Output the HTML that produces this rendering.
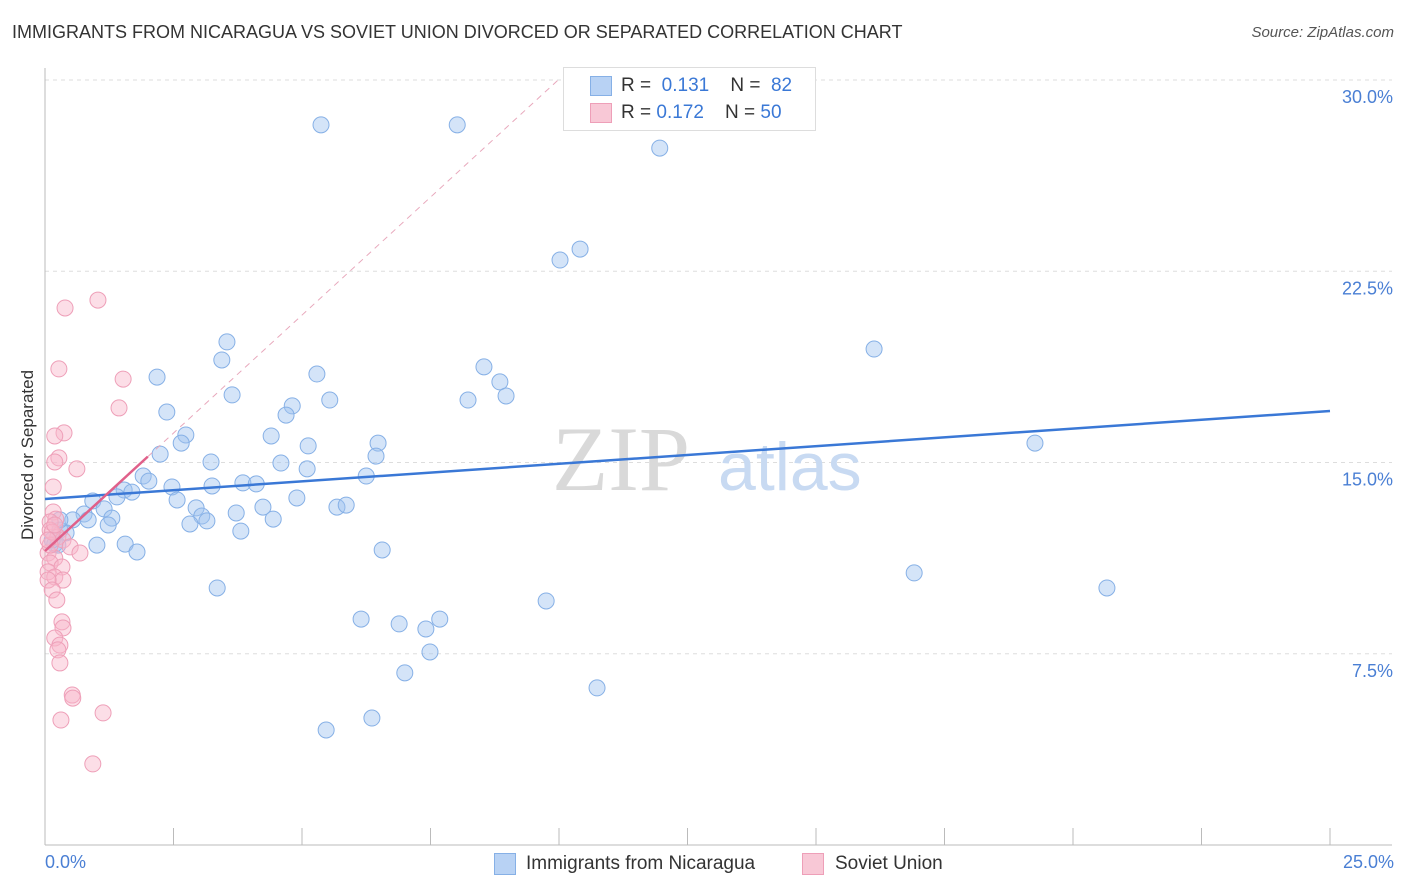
<!DOCTYPE html>
<html><head><meta charset="utf-8">
<style>
body{margin:0;background:#fff;font-family:"Liberation Sans",sans-serif;}
#wrap{position:relative;width:1406px;height:892px;overflow:hidden;}
.t{position:absolute;white-space:nowrap;}
</style></head><body>
<div id="wrap">
<div class="t" style="left:12px;top:22px;font-size:18px;color:#333;">IMMIGRANTS FROM NICARAGUA VS SOVIET UNION DIVORCED OR SEPARATED CORRELATION CHART</div>
<div class="t" style="right:12px;top:24px;font-size:15px;color:#555;font-style:italic;">Source: ZipAtlas.com</div>
<svg id="svg" width="1406" height="892" style="position:absolute;left:0;top:0"></svg>
</div>
<script>
const blueX=[5.37,8.02,11.96,10.02,10.41,16.13,19.26,16.91,20.66,3.54,3.44,2.18,3.64,2.37,5.29,5.54,4.81,4.69,4.40,5.12,5.10,4.59,2.74,2.65,2.24,3.23,1.91,2.02,2.47,2.57,3.85,4.11,3.25,1.54,1.69,1.40,0.93,1.15,0.76,0.54,0.84,1.30,1.23,0.29,0.41,0.19,1.01,1.56,1.79,2.94,3.05,3.15,2.82,3.72,3.81,4.24,4.44,4.90,5.68,5.86,6.25,6.48,6.44,6.56,8.54,8.85,8.97,8.23,6.15,6.89,7.41,7.68,7.49,7.00,9.75,10.74,3.35,5.47,6.36,0.25,0.14,0.29];
const blueY=[28.24,28.24,27.33,22.94,23.37,19.45,15.76,10.67,10.08,19.73,19.02,18.35,17.65,16.98,18.47,17.45,17.22,16.86,16.04,15.65,14.75,14.98,16.08,15.76,15.33,15.02,14.47,14.27,14.04,13.53,14.20,14.16,14.08,13.92,13.84,13.65,13.49,13.18,12.98,12.75,12.75,12.82,12.55,12.35,12.24,11.80,11.76,11.80,11.49,13.22,12.90,12.71,12.59,13.02,12.31,13.25,12.78,13.61,13.25,13.33,14.47,15.76,15.25,11.57,18.75,18.16,17.61,17.45,8.86,8.67,8.47,8.86,7.57,6.75,9.57,6.16,10.08,4.51,4.98,11.76,11.96,12.75];
const pinkX=[1.03,0.39,0.27,1.52,1.44,0.37,0.19,0.27,0.19,0.62,0.16,0.16,0.21,0.10,0.10,0.25,0.35,0.49,0.68,0.06,0.19,0.10,0.33,0.06,0.19,0.35,0.06,0.14,0.23,0.33,0.35,0.19,0.29,0.25,0.29,0.53,0.54,0.31,1.13,0.93,0.10,0.14,0.06,0.19];
const pinkY=[21.37,21.06,18.67,18.27,17.14,16.16,16.04,15.18,15.02,14.75,14.04,13.06,12.78,12.67,12.35,12.08,11.96,11.69,11.45,11.45,11.25,11.06,10.90,10.71,10.51,10.39,10.39,10.00,9.61,8.75,8.51,8.12,7.84,7.65,7.14,5.88,5.76,4.90,5.18,3.18,11.76,12.27,11.96,12.55];
const yTicks=[7.5,15.0,22.5,30.0];
const blueTrend=[13.57,17.02];
const pinkTrend=[11.53,1.85];
const X0=45,X1=1330,Y0=845,PXY=25.5;
const sx=v=>X0+(X1-X0)*v/25;
const sy=v=>Y0-v*PXY;
const svg=document.getElementById('svg');
const NS='http://www.w3.org/2000/svg';
function mk(tag,attrs,parent){const e=document.createElementNS(NS,tag);for(const k in attrs)e.setAttribute(k,attrs[k]);(parent||svg).appendChild(e);return e;}
// gridlines & y labels
yTicks.forEach(v=>{
 const g=mk('line',{x1:X0,x2:1392,y1:sy(v),y2:sy(v),stroke:'#ddd','stroke-dasharray':'4,4'});
 
 
 const t=mk('text',{x:1393,y:sy(v)+23,'text-anchor':'end','font-size':18,fill:'#4a7fd4'});
 t.textContent=v.toFixed(1)+'%';
 
 
});
// axes
const ax=mk('line',{x1:X0,x2:1392,y1:Y0,y2:Y0,stroke:'#bbb'});


const ay=mk('line',{x1:X0,x2:X0,y1:68,y2:Y0,stroke:'#bbb'});


for(let i=0;i<=10;i++){
 const tk=mk('line',{x1:sx(i*2.5),x2:sx(i*2.5),y1:828,y2:Y0,stroke:'#bbb'});
 
 
}
// watermark
const wm=mk('text',{x:552,y:490,'font-size':92,fill:'#d9d9d9','font-family':'Liberation Serif, serif'});
wm.textContent='ZIP';


const wm2=mk('text',{x:718,y:490,'font-size':68,fill:'#c8daf2'});
wm2.textContent='atlas';


// points
blueX.forEach((v,i)=>{
 const c=mk('circle',{cx:sx(v),cy:sy(blueY[i]),r:8,fill:'rgba(160,196,240,0.45)',stroke:'#86b0e6','stroke-width':1});
 
 
});
pinkX.forEach((v,i)=>{
 const c=mk('circle',{cx:sx(v),cy:sy(pinkY[i]),r:8,fill:'rgba(248,182,202,0.45)',stroke:'#ee9fb8','stroke-width':1});
 
 
});
// trend lines
const bl=mk('line',{x1:sx(0),y1:sy(blueTrend[0]),x2:sx(25),y2:sy(blueTrend[1]),stroke:'#3a78d6','stroke-width':2.5});


const pd=mk('line',{x1:sx(2),y1:sy(pinkTrend[0]+pinkTrend[1]*2),x2:sx(10),y2:sy(pinkTrend[0]+pinkTrend[1]*10),stroke:'#e8a8bc','stroke-width':1,'stroke-dasharray':'6,5'});


const pl=mk('line',{x1:sx(0),y1:sy(pinkTrend[0]),x2:sx(2),y2:sy(pinkTrend[0]+pinkTrend[1]*2),stroke:'#e0608a','stroke-width':2.5});


</script>
<div class="t" style="left:17px;top:455px;transform:translate(-50%,-50%) rotate(-90deg);transform-origin:center;margin-left:11px;font-size:17px;color:#333;">Divorced or Separated</div>
<div class="t" style="left:45px;top:852px;font-size:18px;color:#4a7fd4;">0.0%</div>
<div class="t" style="right:12px;top:852px;font-size:18px;color:#4a7fd4;">25.0%</div>
<div style="position:absolute;left:563px;top:67px;width:251px;height:62px;border:1px solid #ddd;background:#fff;font-size:19px;color:#333;">
 <div class="t" style="left:26px;top:8px;width:20px;height:18px;background:#b8d2f4;border:1px solid #86b0e6;"></div>
 <div class="t" style="left:57px;top:7px;">R = <span style="color:#3a78d6">&nbsp;0.131</span>&nbsp;&nbsp;&nbsp; N = <span style="color:#3a78d6">&nbsp;82</span></div>
 <div class="t" style="left:26px;top:35px;width:20px;height:18px;background:#f8c8d6;border:1px solid #ee9fb8;"></div>
 <div class="t" style="left:57px;top:34px;">R = <span style="color:#3a78d6">0.172</span>&nbsp;&nbsp;&nbsp; N = <span style="color:#3a78d6">50</span></div>
</div>
<div class="t" style="left:494px;top:853px;width:20px;height:20px;background:#b8d2f4;border:1px solid #86b0e6;"></div>
<div class="t" style="left:526px;top:853px;font-size:19px;color:#333;">Immigrants from Nicaragua</div>
<div class="t" style="left:802px;top:853px;width:20px;height:20px;background:#f8c8d6;border:1px solid #ee9fb8;"></div>
<div class="t" style="left:835px;top:853px;font-size:19px;color:#333;">Soviet Union</div>
</body></html>
